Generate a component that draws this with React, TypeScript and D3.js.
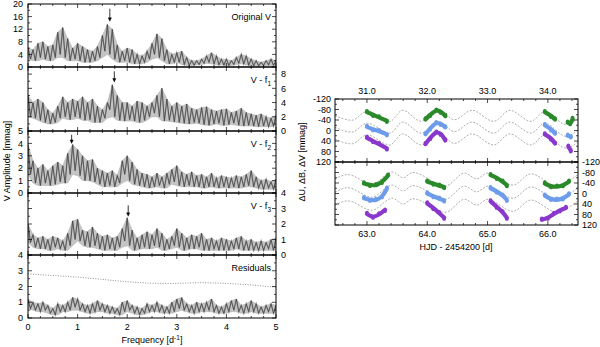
import React from "react";
import * as d3 from "d3";

// periodograms: envelope peaks at 0, 0.1 ... 5.0 d-1, troughs half way between
const freqStep = 0.1;

const origPeaks = [6, 5.5, 7.5, 8, 6.5, 7, 11, 12.5, 9, 6, 7.5, 6.5, 5.5, 5, 6.5, 10, 13.5, 12, 7, 5, 6, 5.5, 4, 3.5, 5, 7.5, 10.5, 9, 5.5, 4, 4.5, 5, 3, 2, 2, 2.5, 3.5, 4.5, 3.5, 2.5, 2.5, 2, 3, 4, 3.5, 2.5, 2, 1.5, 2, 2.5, 2];
const origTroughs = [2.5, 2, 3, 2.5, 2, 3, 4, 3, 2, 2.5, 2, 1.5, 1.5, 2, 3, 5, 4, 2.5, 1.5, 2, 1.5, 1, 1, 1.5, 2.5, 4, 3, 2, 1, 1.5, 1.5, 0.8, 0.5, 0.6, 0.8, 1.2, 1.5, 1, 0.7, 0.6, 0.5, 0.8, 1.2, 1, 0.6, 0.4, 0.4, 0.5, 0.7, 0.5];

const f1Peaks = [5, 4, 4.5, 4, 3, 2.5, 3.5, 4.8, 4, 4.5, 4.2, 4.8, 4, 4.5, 3.5, 3, 4, 6.5, 5, 4, 4, 3.5, 4.2, 4, 3.5, 4, 5, 6, 4.5, 3.5, 4, 3.5, 3.8, 3.2, 3, 3.3, 3.4, 3, 2.8, 3, 3.1, 2.6, 2.8, 3.2, 2.6, 2.4, 2.2, 2.4, 2, 1.8, 2.2];
const f1Troughs = [2, 1.8, 1.5, 1.2, 1, 1.2, 1.8, 2, 1.6, 2, 1.8, 1.5, 1.6, 1.2, 1.2, 1.8, 3, 2, 1.5, 1.4, 1.6, 1.4, 1.2, 1.5, 2, 2.5, 2, 1.4, 1.5, 1.3, 1.2, 1.1, 1, 1.2, 1.1, 0.9, 0.8, 1, 1.1, 0.8, 0.9, 1.1, 0.8, 0.7, 0.8, 0.7, 0.6, 0.7, 0.6, 0.7];

const f2Peaks = [3.9, 2.6, 2.0, 2.3, 1.8, 2.2, 2.5, 2.2, 3.2, 3.9, 3.5, 3.0, 2.6, 2.7, 2.0, 1.8, 1.6, 1.8, 1.4, 2.6, 3.0, 2.5, 1.9, 1.6, 1.5, 1.3, 1.6, 1.3, 1.6, 1.9, 2.2, 1.7, 1.5, 1.7, 1.4, 1.5, 1.3, 1.6, 1.2, 1.4, 1.3, 1.2, 1.4, 1.3, 1.5, 1.8, 1.3, 1.0, 1.1, 0.9, 1.1];
const f2Troughs = [1.5, 0.8, 0.6, 0.8, 0.6, 0.7, 0.9, 0.8, 1.5, 1.8, 1.4, 1.0, 1.0, 0.9, 0.7, 0.5, 0.6, 0.5, 0.8, 1.5, 1.0, 0.7, 0.6, 0.5, 0.4, 0.5, 0.6, 0.4, 0.7, 0.9, 0.6, 0.5, 0.6, 0.5, 0.5, 0.4, 0.5, 0.5, 0.4, 0.5, 0.4, 0.5, 0.4, 0.5, 0.6, 0.5, 0.4, 0.3, 0.4, 0.3];

const f3Peaks = [2.0, 1.3, 1.1, 1.2, 1.0, 1.2, 1.1, 0.9, 1.4, 2.2, 2.3, 1.6, 1.5, 1.8, 1.4, 1.2, 1.3, 1.1, 1.2, 1.7, 2.4, 1.6, 1.1, 1.3, 1.5, 1.3, 1.7, 1.4, 1.0, 1.2, 1.7, 1.4, 1.1, 1.3, 1.2, 1.4, 1.0, 1.1, 0.9, 1.1, 1.0, 0.9, 1.1, 1.2, 0.9, 1.0, 0.8, 0.9, 0.8, 1.0, 1.1];
const f3Troughs = [0.8, 0.5, 0.4, 0.4, 0.3, 0.5, 0.4, 0.3, 0.6, 1.0, 0.9, 0.6, 0.5, 0.6, 0.4, 0.3, 0.4, 0.3, 0.5, 0.9, 0.6, 0.3, 0.4, 0.5, 0.4, 0.6, 0.5, 0.3, 0.4, 0.6, 0.5, 0.3, 0.4, 0.4, 0.5, 0.3, 0.3, 0.4, 0.3, 0.3, 0.3, 0.4, 0.4, 0.3, 0.3, 0.3, 0.3, 0.3, 0.4, 0.3];

const resPeaks = [1.2, 1.0, 0.9, 1.0, 0.8, 0.6, 0.9, 0.8, 1.0, 1.3, 1.2, 0.9, 0.8, 0.9, 1.1, 0.9, 0.8, 0.7, 0.6, 1.0, 1.1, 0.8, 0.7, 0.6, 0.9, 0.8, 1.0, 0.8, 0.7, 1.0, 1.2, 1.3, 0.9, 0.8, 1.0, 0.9, 1.0, 1.2, 0.8, 0.7, 0.9, 1.1, 1.2, 0.8, 0.9, 1.1, 0.9, 0.7, 0.8, 0.9, 0.8];
const resTroughs = [0.6, 0.5, 0.4, 0.5, 0.3, 0.2, 0.4, 0.4, 0.5, 0.7, 0.5, 0.4, 0.3, 0.4, 0.5, 0.4, 0.3, 0.3, 0.2, 0.4, 0.5, 0.3, 0.2, 0.3, 0.4, 0.4, 0.4, 0.3, 0.3, 0.4, 0.6, 0.5, 0.4, 0.3, 0.4, 0.4, 0.5, 0.4, 0.3, 0.3, 0.4, 0.5, 0.4, 0.3, 0.4, 0.4, 0.3, 0.3, 0.4, 0.3];

// significance limit in the residual panel
const limitFreqs = [0, 0.5, 1, 1.5, 2, 2.5, 3, 3.5, 4, 4.5, 5];
const limitValues = [2.8, 2.7, 2.6, 2.45, 2.3, 2.2, 2.2, 2.25, 2.2, 2.1, 1.95];

// arrows marking the detected frequencies
const arrowFreqs = [1.65, 1.74, 0.88, 2.02];
const arrowTips = [14.5, 6.9, 4.0, 2.5];
const arrowTails = [18.5, 8.4, 4.7, 3.2];

const panelMax = [20, 9, 5, 4, 4];
const panelTickStep = [4, 2, 1, 1, 1];
const panelLabelSide = ["left", "right", "left", "right", "left"];
const panelNames = ["Original V", "V - f", "V - f", "V - f", "Residuals"];
const panelSubs = ["", "1", "2", "3", ""];
const freqTicks = [0, 1, 2, 3, 4, 5];

// light curves (HJD - 2454200, mmag), one list of nights per filter
type Pt = [number, number];
const vTop: Pt[][] = [
  [[31.0, -70], [31.1, -60], [31.2, -50], [31.33, -37]],
  [[31.97, -42], [32.05, -60], [32.15, -75], [32.22, -72], [32.3, -55]],
  [[33.95, -70], [34.05, -56], [34.12, -42]],
  [[34.33, -30], [34.37, -28], [34.41, -44]],
];
const bTop: Pt[][] = [
  [[31.0, -14], [31.1, -5], [31.2, 3], [31.33, 14]],
  [[31.97, 14], [32.05, -8], [32.15, -28], [32.22, -26], [32.3, -12]],
  [[33.95, -20], [34.05, -5], [34.12, 12]],
  [[34.33, 20], [34.38, 22]],
];
const uTop: Pt[][] = [
  [[31.0, 28], [31.1, 40], [31.2, 52], [31.33, 68]],
  [[31.97, 52], [32.05, 28], [32.15, 8], [32.22, 12], [32.3, 38]],
  [[33.95, 15], [34.05, 30], [34.12, 50]],
  [[34.34, 62], [34.38, 75]],
];
const vBottom: Pt[][] = [
  [[62.95, -38], [63.05, -33], [63.15, -32], [63.25, -45], [63.35, -68]],
  [[64.0, -45], [64.1, -38], [64.2, -30], [64.28, -25]],
  [[65.05, -70], [65.15, -60], [65.25, -45], [65.32, -32]],
  [[65.95, -38], [66.05, -28], [66.15, -26], [66.25, -32], [66.35, -45]],
];
const bBottom: Pt[][] = [
  [[62.95, 18], [63.05, 24], [63.15, 25], [63.25, 10], [63.33, -18]],
  [[64.0, 0], [64.1, 10], [64.2, 20], [64.28, 26]],
  [[65.05, -20], [65.15, -8], [65.25, 8], [65.32, 24]],
  [[65.95, 8], [66.05, 20], [66.15, 24], [66.25, 18], [66.35, 4]],
];
const uBottom: Pt[][] = [
  [[63.0, 78], [63.1, 88], [63.2, 80], [63.3, 62]],
  [[64.0, 38], [64.1, 55], [64.2, 75], [64.28, 92]],
  [[65.05, 30], [65.15, 50], [65.25, 72], [65.32, 92]],
  [[65.9, 100], [66.0, 92], [66.1, 78], [66.2, 64], [66.3, 55]],
];

// fitted multi-periodic model (B curve), drawn again shifted for V and U
const modelTop: Pt[] = [[30.47, -12], [30.75, 6], [31.0, -28], [31.38, 10], [31.59, -32], [31.9, 10], [32.2, -32], [32.45, 4], [32.74, -32], [33.1, 10], [33.37, -32], [33.72, 10], [33.95, -28], [34.3, 22], [34.5, -2]];
const modelBottom: Pt[] = [[62.47, -5], [62.68, -22], [63.08, 14], [63.42, -32], [63.6, -10], [63.76, -30], [64.3, 22], [64.62, -28], [64.82, -6], [65.0, -28], [65.42, 18], [65.72, -25], [66.13, 19], [66.5, -22]];
const offsetsTop = [-45, 0, 45];
const offsetsBottom = [-50, 0, 50];
const topDays = [31, 32, 33, 34];
const bottomDays = [63, 64, 65, 66];
const magTicks = [-120, -80, -40, 0, 40, 80, 120];

const filterColors = ["#2a8a2a", "#6d9ceb", "#8a38cc"];
const font = "'Liberation Sans', Arial, sans-serif";

const panelEdges = [4, 67, 131, 193, 255, 318];
const spectra = [
  [origPeaks, origTroughs],
  [f1Peaks, f1Troughs],
  [f2Peaks, f2Troughs],
  [f3Peaks, f3Troughs],
  [resPeaks, resTroughs],
];

function zigzag(peaks: number[], troughs: number[]): Pt[] {
  const pts: Pt[] = [];
  peaks.forEach((p, i) => {
    pts.push([i * freqStep, p]);
    if (i < troughs.length) pts.push([i * freqStep + freqStep / 2, troughs[i]]);
  });
  return pts;
}

// band between the trough envelope and the peak envelope
function band(peaks: number[], troughs: number[]) {
  return peaks.map((p, i) => {
    const lo = Math.min(troughs[Math.max(0, i - 1)], troughs[Math.min(troughs.length - 1, i)]);
    return { f: i * freqStep, hi: p, lo };
  });
}

const fx = d3.scaleLinear().domain([0, 5]).range([28, 276]);

function SpecPanel({ idx }: { idx: number }) {
  const y0 = panelEdges[idx];
  const y1 = panelEdges[idx + 1];
  const y = d3.scaleLinear().domain([0, panelMax[idx]]).range([y1, y0]);
  const pts = zigzag(spectra[idx][0], spectra[idx][1]);
  const line = d3.line<Pt>().x((d) => fx(d[0])).y((d) => y(d[1]));
  const area = d3
    .area<{ f: number; hi: number; lo: number }>()
    .x((d) => fx(d.f))
    .y0((d) => y(d.lo))
    .y1((d) => y(d.hi));
  const step = panelTickStep[idx];
  const major = d3.range(0, panelMax[idx] + 0.001, step);
  const minor = d3.range(step / 2, panelMax[idx], step);
  const xMinor = d3.range(0, 5.001, 0.25);
  const left = fx.range()[0];
  const right = fx.range()[1];
  const labels = panelLabelSide[idx] === "left";
  return (
    <g>
      <clipPath id={"cp" + idx}>
        <rect x={left} y={y0} width={right - left} height={y1 - y0} />
      </clipPath>
      <g clipPath={`url(#cp${idx})`}>
        <path d={area(band(spectra[idx][0], spectra[idx][1])) || ""} fill="#c4c4c4" stroke="#a8a8a8" strokeWidth={0.5} />
        <path d={line(pts) || ""} fill="none" stroke="#8c8c8c" strokeWidth={1.3} />
        <path d={line(pts) || ""} fill="none" stroke="#222" strokeWidth={0.45} />
        {idx === 4 && (
          <path
            d={d3.line<number>().x((d, i) => fx(limitFreqs[i])).y((d) => y(d))(limitValues) || ""}
            fill="none"
            stroke="#777"
            strokeWidth={0.8}
            strokeDasharray="1,1.5"
          />
        )}
      </g>
      {idx < 4 && (
        <g stroke="#000" fill="#000">
          <line x1={fx(arrowFreqs[idx])} x2={fx(arrowFreqs[idx])} y1={y(arrowTails[idx])} y2={y(arrowTips[idx]) - 2} strokeWidth={0.8} />
          <path d={`M${fx(arrowFreqs[idx]) - 1.6},${y(arrowTips[idx]) - 3.5}L${fx(arrowFreqs[idx])},${y(arrowTips[idx])}L${fx(arrowFreqs[idx]) + 1.6},${y(arrowTips[idx]) - 3.5}Z`} strokeWidth={0.4} />
        </g>
      )}
      <rect x={left} y={y0} width={right - left} height={y1 - y0} fill="none" stroke="#000" strokeWidth={1} />
      <g stroke="#000" strokeWidth={0.7}>
        {xMinor.map((f) => {
          const isMajor = Math.abs(f - Math.round(f)) < 0.001;
          const len = isMajor ? 4 : 2;
          return (
            <g key={f}>
              <line x1={fx(f)} x2={fx(f)} y1={y0} y2={y0 + len} />
              <line x1={fx(f)} x2={fx(f)} y1={y1} y2={y1 - len} />
            </g>
          );
        })}
        {major.map((v) => (
          <g key={"M" + v}>
            <line x1={left} x2={left + 4} y1={y(v)} y2={y(v)} />
            <line x1={right} x2={right - 4} y1={y(v)} y2={y(v)} />
          </g>
        ))}
        {minor.map((v) => (
          <g key={"m" + v}>
            <line x1={left} x2={left + 2} y1={y(v)} y2={y(v)} />
            <line x1={right} x2={right - 2} y1={y(v)} y2={y(v)} />
          </g>
        ))}
      </g>
      <g fontSize={9} fontFamily={font} fill="#000">
        {major.map((v) => (
          <text
            key={"t" + v}
            x={labels ? left - 5 : right + 5}
            y={y(v) + 3.2}
            textAnchor={labels ? "end" : "start"}
          >
            {v}
          </text>
        ))}
        <text x={271} y={y0 + 16} textAnchor="end">
          {panelNames[idx]}
          {panelSubs[idx] && (
            <tspan fontSize={6.5} dy={2.5}>
              {panelSubs[idx]}
            </tspan>
          )}
        </text>
      </g>
    </g>
  );
}

function LightPanel({ top }: { top: boolean }) {
  const x = d3.scaleLinear().domain(top ? [30.47, 34.5] : [62.47, 66.5]).range([335, 578]);
  const y = d3.scaleLinear().domain([-120, 120]).range(top ? [99, 162] : [162, 225]);
  const [y0, y1] = y.range();
  const model = top ? modelTop : modelBottom;
  const offsets = top ? offsetsTop : offsetsBottom;
  const sets = top ? [vTop, bTop, uTop] : [vBottom, bBottom, uBottom];
  const days = top ? topDays : bottomDays;
  const d0 = x.domain()[0];
  const xMinor = d3.range(Math.ceil(d0 * 5) / 5, x.domain()[1], 0.2);
  const curve = (off: number) =>
    d3.line<Pt>().x((d) => x(d[0])).y((d) => y(d[1] + off)).curve(d3.curveMonotoneX)(model) || "";
  const track = d3.line<Pt>().x((d) => x(d[0])).y((d) => y(d[1])).curve(d3.curveCatmullRom);
  const id = top ? "lt" : "lb";
  return (
    <g>
      <clipPath id={id}>
        <rect x={335} y={y0} width={243} height={y1 - y0} />
      </clipPath>
      <g clipPath={`url(#${id})`}>
        {offsets.map((o) => (
          <path key={o} d={curve(o)} fill="none" stroke="#777" strokeWidth={0.6} strokeDasharray="2,1.5" />
        ))}
        {sets.map((nights, ci) =>
          nights.map((n, ni) => (
            <g key={ci + "-" + ni}>
              <path d={track(n) || ""} fill="none" stroke={filterColors[ci]} strokeWidth={4.2} strokeLinecap="round" strokeLinejoin="round" />
              {n.map((p, k) => (
                <circle key={k} cx={x(p[0])} cy={y(p[1]) + (k % 2 ? 1.3 : -1.3)} r={1.9} fill={filterColors[ci]} />
              ))}
            </g>
          ))
        )}
      </g>
      <rect x={335} y={y0} width={243} height={y1 - y0} fill="none" stroke="#000" strokeWidth={1} />
      <g stroke="#000" strokeWidth={0.7}>
        {xMinor.map((t) => {
          const isMajor = Math.abs(t - Math.round(t)) < 0.001;
          const len = isMajor ? 4 : 2;
          return (
            <g key={t}>
              <line x1={x(t)} x2={x(t)} y1={y0} y2={y0 + len} />
              <line x1={x(t)} x2={x(t)} y1={y1} y2={y1 - len} />
            </g>
          );
        })}
        {d3.range(-120, 121, 20).map((v) => {
          const len = v % 40 === 0 ? 4 : 2;
          return (
            <g key={v}>
              <line x1={335} x2={335 + len} y1={y(v)} y2={y(v)} />
              <line x1={578} x2={578 - len} y1={y(v)} y2={y(v)} />
            </g>
          );
        })}
      </g>
      <g fontSize={9} fontFamily={font} fill="#000">
        {days.map((d) => (
          <text key={d} x={x(d)} y={top ? y0 - 5 : y1 + 12} textAnchor="middle">
            {d.toFixed(1)}
          </text>
        ))}
        {magTicks.map((v) => (
          <text key={v} x={top ? 331 : 582} y={y(v) + 3.2} textAnchor={top ? "end" : "start"}>
            {v}
          </text>
        ))}
      </g>
    </g>
  );
}

export default function App() {
  return (
    <svg width={600} height={347} style={{ position: "absolute", left: 0, top: 0, background: "#fff" }}>
      {panelMax.map((_, i) => (
        <SpecPanel key={i} idx={i} />
      ))}
      <g fontSize={9} fontFamily={font} fill="#000">
        {freqTicks.map((f) => (
          <text key={f} x={fx(f)} y={330} textAnchor="middle">
            {f}
          </text>
        ))}
        <text x={152} y={343} textAnchor="middle">
          Frequency [d
          <tspan fontSize={6.5} dy={-3.5}>-1</tspan>
          <tspan dy={3.5}>]</tspan>
        </text>
        <text transform="translate(10,161) rotate(-90)" textAnchor="middle">
          V Amplitude [mmag]
        </text>
        <text transform="translate(305,162) rotate(-90)" textAnchor="middle">
          ΔU, ΔB, ΔV [mmag]
        </text>
        <text x={456} y={250} textAnchor="middle">
          HJD - 2454200 [d]
        </text>
      </g>
      <LightPanel top={true} />
      <LightPanel top={false} />
    </svg>
  );
}
